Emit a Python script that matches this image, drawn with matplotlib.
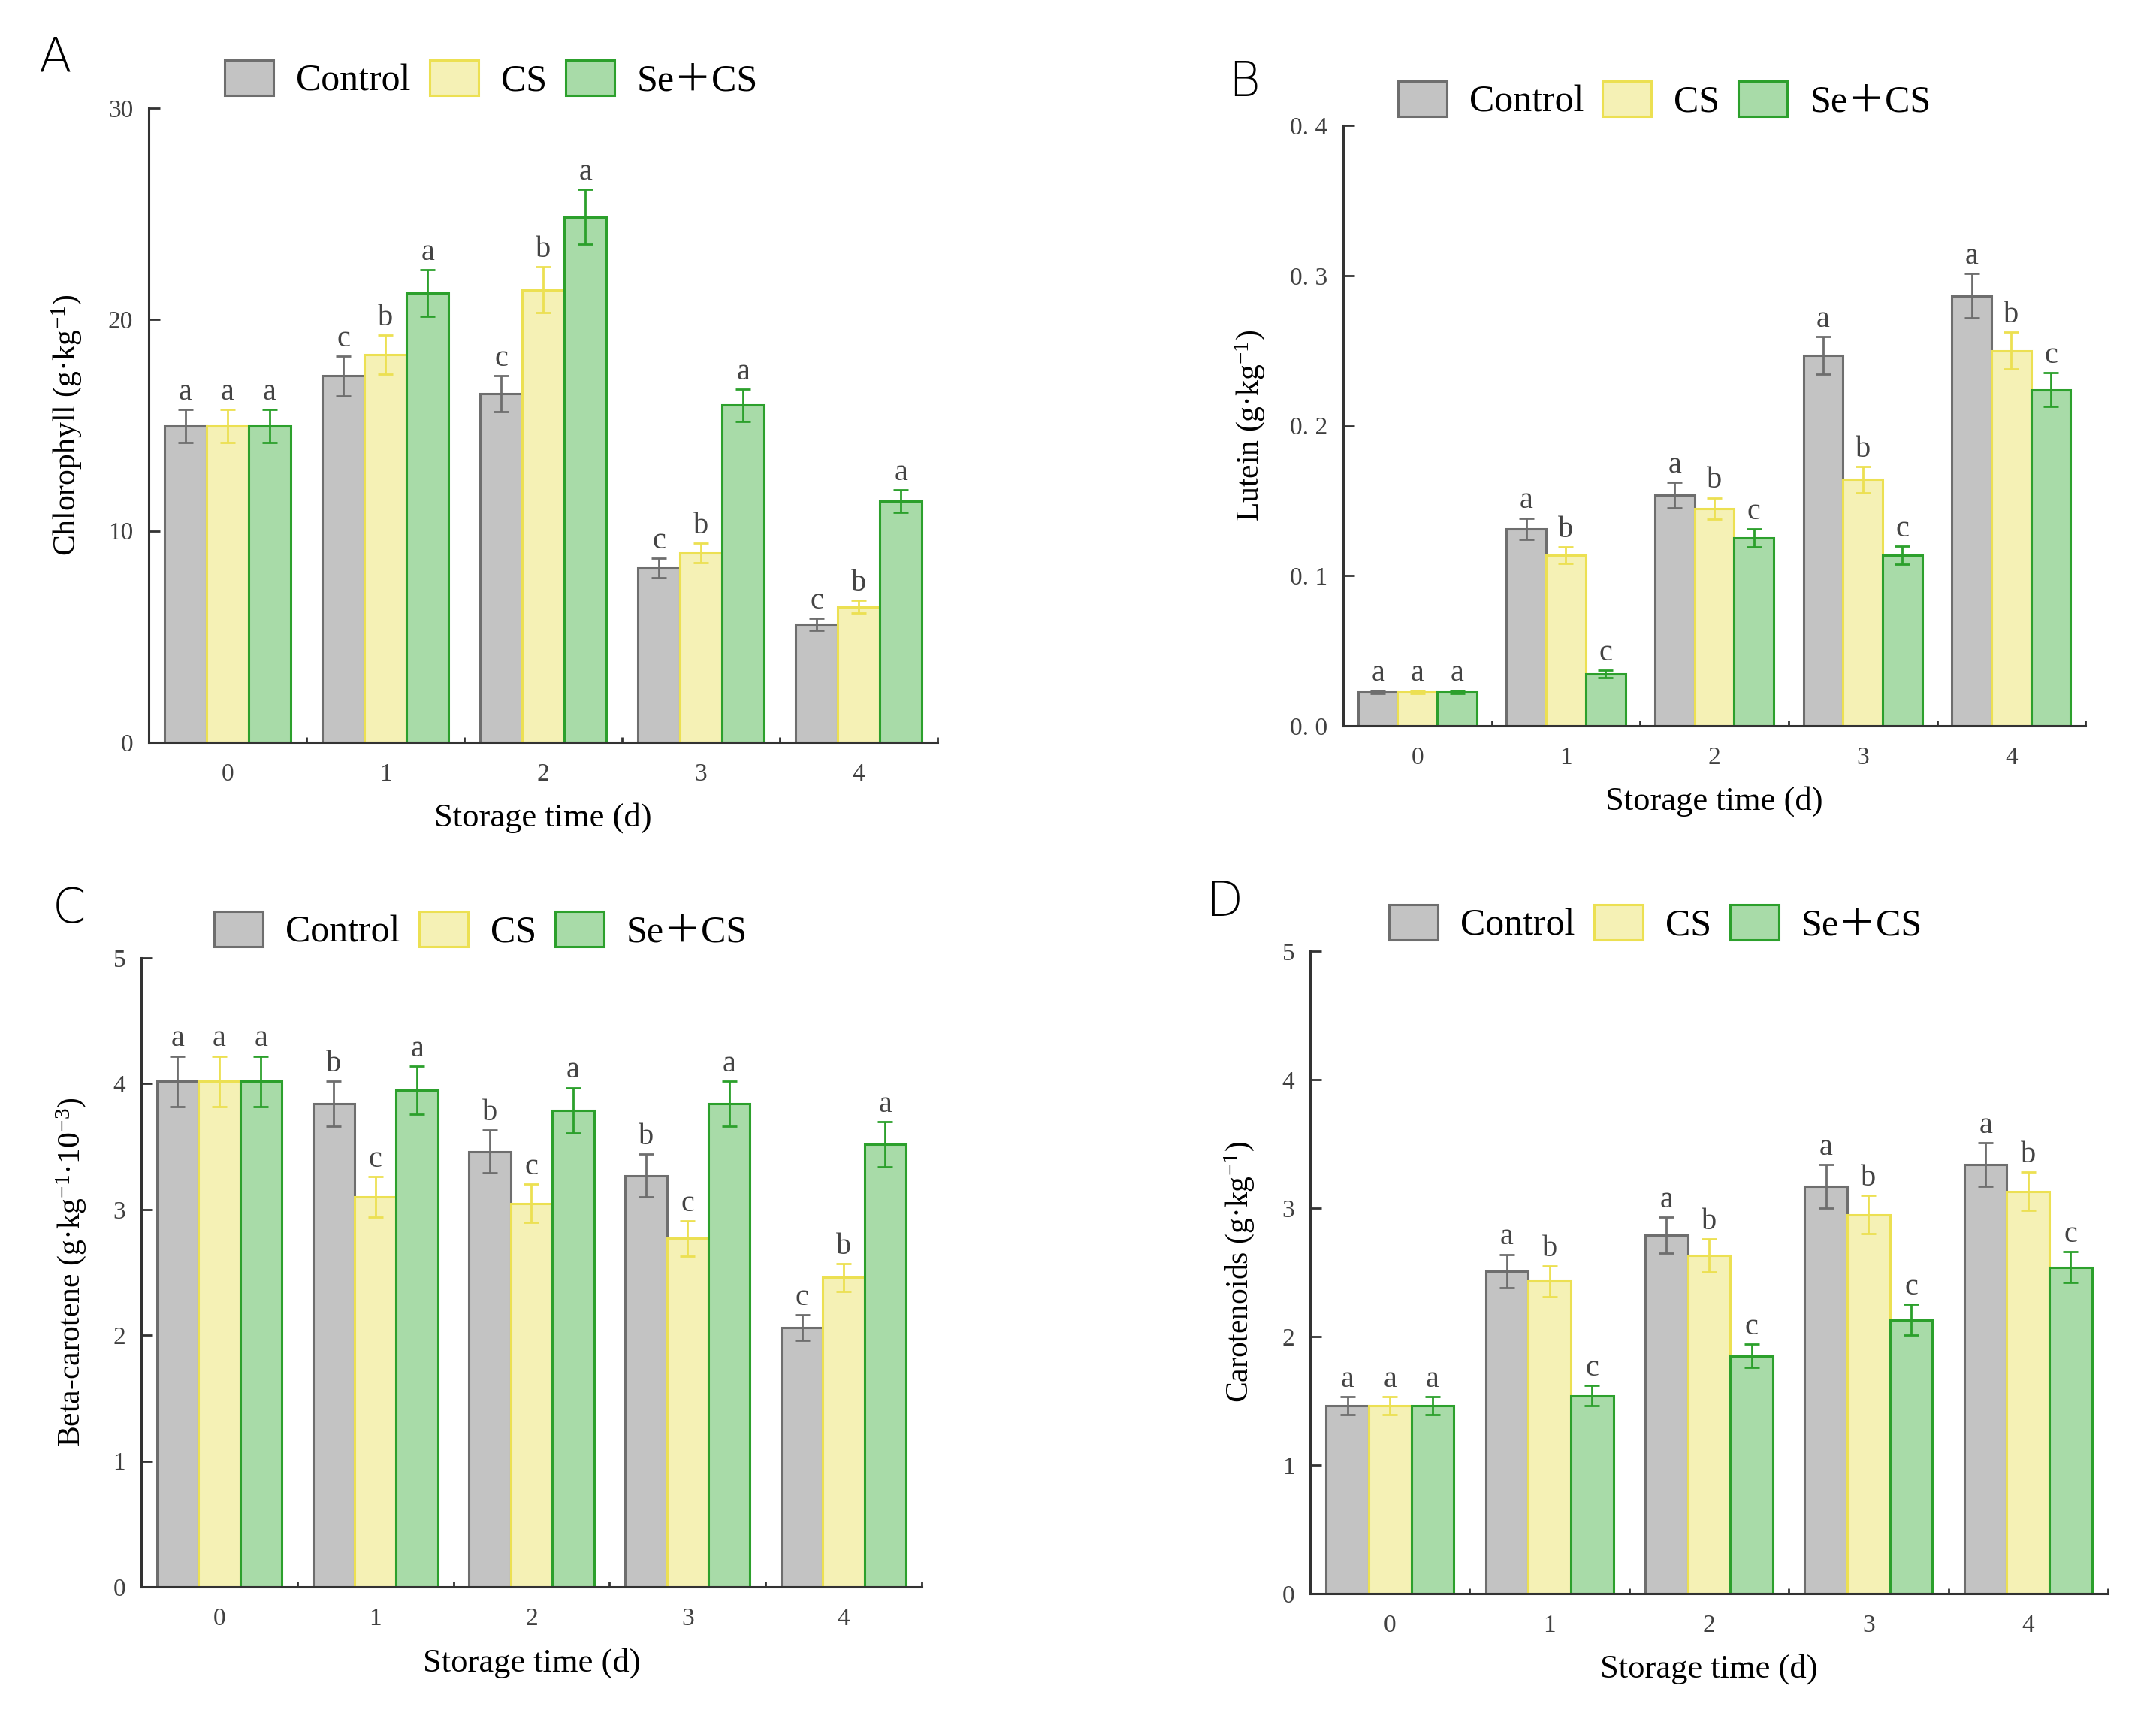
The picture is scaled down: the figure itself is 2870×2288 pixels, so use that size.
import matplotlib.pyplot as plt
from matplotlib.patches import Patch
from matplotlib.ticker import FixedLocator

plt.rcParams['font.family'] = ['Liberation Serif', 'Noto Sans CJK SC', 'DejaVu Serif']
plt.rcParams['mathtext.fontset'] = 'custom'
plt.rcParams['mathtext.rm'] = 'Liberation Serif'
plt.rcParams['mathtext.it'] = 'Liberation Serif:italic'

days = ['0', '1', '2', '3', '4']
groups = ['Control', 'CS', 'Se+CS']
legend_labels = ['Control', 'CS', 'Se\uff0bCS']

# A - chlorophyll
chl_mean = {'Control': [14.96, 17.33, 16.5, 8.25, 5.57],
            'CS': [14.96, 18.34, 21.41, 8.95, 6.4],
            'Se+CS': [14.96, 21.25, 24.86, 15.94, 11.4]}
chl_err = {'Control': [0.77, 0.93, 0.85, 0.45, 0.28],
           'CS': [0.77, 0.93, 1.08, 0.46, 0.3],
           'Se+CS': [0.77, 1.11, 1.3, 0.77, 0.54]}
chl_sig = {'Control': ['a', 'c', 'c', 'c', 'c'],
           'CS': ['a', 'b', 'b', 'b', 'b'],
           'Se+CS': ['a', 'a', 'a', 'a', 'a']}

# B - lutein
lut_mean = {'Control': [0.0223, 0.1314, 0.1537, 0.2467, 0.2866],
            'CS': [0.0223, 0.1138, 0.1449, 0.164, 0.25],
            'Se+CS': [0.0223, 0.0344, 0.1252, 0.1135, 0.224]}
lut_err = {'Control': [0.001, 0.007, 0.0084, 0.0124, 0.0146],
           'CS': [0.001, 0.0055, 0.007, 0.0088, 0.0124],
           'Se+CS': [0.001, 0.0025, 0.006, 0.006, 0.0113]}
lut_sig = {'Control': ['a', 'a', 'a', 'a', 'a'],
           'CS': ['a', 'b', 'b', 'b', 'b'],
           'Se+CS': ['a', 'c', 'c', 'c', 'c']}

# C - beta-carotene
bc_mean = {'Control': [4.02, 3.84, 3.46, 3.27, 2.06],
           'CS': [4.02, 3.10, 3.05, 2.77, 2.46],
           'Se+CS': [4.02, 3.95, 3.79, 3.84, 3.52]}
bc_err = {'Control': [0.2, 0.18, 0.17, 0.17, 0.10],
          'CS': [0.2, 0.16, 0.15, 0.14, 0.11],
          'Se+CS': [0.2, 0.19, 0.18, 0.18, 0.18]}
bc_sig = {'Control': ['a', 'b', 'b', 'b', 'c'],
          'CS': ['a', 'c', 'c', 'c', 'b'],
          'Se+CS': ['a', 'a', 'a', 'a', 'a']}

# D - carotenoids
car_mean = {'Control': [1.46, 2.51, 2.79, 3.17, 3.34],
            'CS': [1.46, 2.43, 2.63, 2.95, 3.13],
            'Se+CS': [1.46, 1.54, 1.85, 2.13, 2.54]}
car_err = {'Control': [0.07, 0.13, 0.14, 0.17, 0.17],
           'CS': [0.07, 0.12, 0.13, 0.15, 0.15],
           'Se+CS': [0.07, 0.08, 0.09, 0.12, 0.12]}
car_sig = {'Control': ['a', 'a', 'a', 'a', 'a'],
           'CS': ['a', 'b', 'b', 'b', 'b'],
           'Se+CS': ['a', 'c', 'c', 'c', 'c']}

lut_ticks = [0.0, 0.1, 0.2, 0.3, 0.4]
lut_ticklabels = ['0. 0', '0. 1', '0. 2', '0. 3', '0. 4']

face = {'Control': '#c3c3c3', 'CS': '#f5f1b5', 'Se+CS': '#a8dba8'}
edge = {'Control': '#6e6e6e', 'CS': '#ece052', 'Se+CS': '#2ca02c'}

fig = plt.figure(figsize=(28.7, 22.88), dpi=100)

panels = [
    # letter, rect, means, errs, sigs, ymax, yticks, yticklabels, ylabel, ylabel x, legend center, letter pos
    ('A', [0.0690, 0.5682, 0.3659, 0.3689], chl_mean, chl_err, chl_sig, 30, [0, 10, 20, 30], None,
     'Chlorophyll (g\u00b7kg$^{-1}$)', -0.083, (0.228, 0.9537), (0.0255, 0.966)),
    ('B', [0.6230, 0.5778, 0.3443, 0.3492], lut_mean, lut_err, lut_sig, 0.4, lut_ticks, lut_ticklabels,
     'Lutein (g\u00b7kg$^{-1}$)', -0.103, (0.772, 0.9414), (0.577, 0.952)),
    ('C', [0.0655, 0.0769, 0.3620, 0.3658], bc_mean, bc_err, bc_sig, 5, [0, 1, 2, 3, 4, 5], None,
     'Beta-carotene (g\u00b7kg$^{-1}$\u00b710$^{-3}$)', -0.068, (0.223, 0.4585), (0.032, 0.471)),
    ('D', [0.6077, 0.0730, 0.3700, 0.3737], car_mean, car_err, car_sig, 5, [0, 1, 2, 3, 4, 5], None,
     'Carotenoids (g\u00b7kg$^{-1}$)', -0.068, (0.768, 0.4624), (0.568, 0.475)),
]

width = 0.8 / 3
x = list(range(len(days)))

for letter, rect, means, errs, sigs, ymax, yticks, yticklabels, ylabel, ylx, leg_c, let_pos in panels:
    ax = fig.add_axes(rect)
    for i, g in enumerate(groups):
        pos = [xi + (i - 1) * width for xi in x]
        ax.bar(pos, means[g], width, color=face[g], edgecolor=edge[g], linewidth=2.2, zorder=2)
        ax.errorbar(pos, means[g], yerr=errs[g], fmt='none', ecolor=edge[g],
                    elinewidth=2.0, capsize=7, capthick=2.0, zorder=3)
        for p, m, e, s in zip(pos, means[g], errs[g], sigs[g]):
            ax.annotate(s, (p, m + e), xytext=(0, 3), textcoords='offset points',
                        ha='center', va='bottom', fontsize=29, color='#444444')

    ax.set_xlim(-0.5, 4.5)
    ax.set_ylim(0, ymax)
    ax.set_xticks(x)
    ax.set_xticklabels(days)
    ax.xaxis.set_minor_locator(FixedLocator([0.5, 1.5, 2.5, 3.5, 4.5]))
    ax.set_yticks(yticks)
    if yticklabels is not None:
        ax.set_yticklabels(yticklabels)

    for side in ['top', 'right']:
        ax.spines[side].set_visible(False)
    for side in ['left', 'bottom']:
        ax.spines[side].set_linewidth(2.2)
        ax.spines[side].set_color('#333333')

    ax.tick_params(axis='x', which='major', length=0, pad=20, labelsize=24, labelcolor='#404040')
    ax.tick_params(axis='x', which='minor', direction='in', length=5, width=2, color='#333333')
    ax.tick_params(axis='y', direction='in', length=11, width=2, color='#333333',
                   pad=15, labelsize=24, labelcolor='#404040')

    ax.set_xlabel('Storage time (d)', fontsize=32, labelpad=16)
    ax.set_ylabel(ylabel, fontsize=30)
    ax.yaxis.set_label_coords(ylx, 0.5)

    handles = [Patch(facecolor=face[g], edgecolor=edge[g], linewidth=2.2) for g in groups]
    fig.legend(handles, legend_labels, loc='center', bbox_to_anchor=leg_c, ncol=3,
               frameon=False, fontsize=36, handlelength=1.3, handleheight=1.05,
               handletextpad=0.6, columnspacing=0.5)

    fig.text(let_pos[0], let_pos[1], letter, fontsize=46, family='DejaVu Sans',
             weight='light', ha='center', va='center')

fig.savefig('out.png', dpi=100, facecolor='white')
